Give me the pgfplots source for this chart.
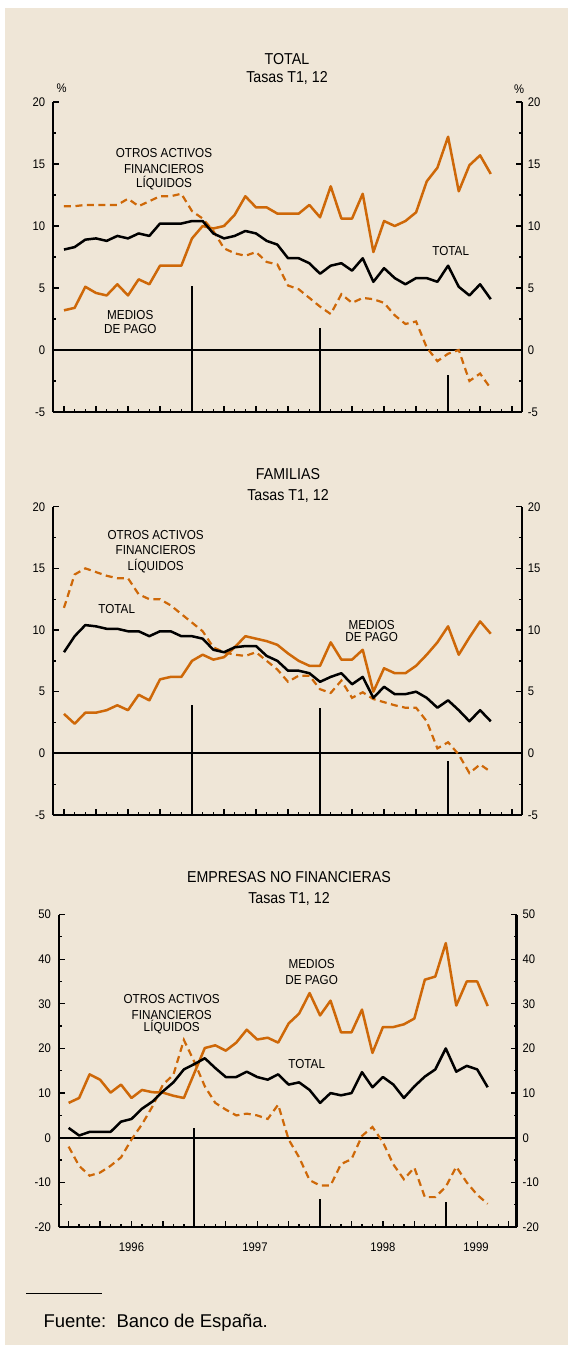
\documentclass[border=0pt]{standalone}
\usepackage{fontspec}
\setmainfont{Liberation Sans}[FakeStretch=0.9]
\newfontfamily\plainfont{Liberation Sans}
\usepackage{pgfplots}
\usepackage{pgfplotstable}
\pgfplotsset{compat=1.18}
\definecolor{bg}{RGB}{239,230,215}
\definecolor{org}{RGB}{206,104,8}
\newcommand\ticksize{\fontsize{12.5}{14}\selectfont}
\newcommand\annsize{\fontsize{13}{15}\selectfont}
\newcommand\titsize{\fontsize{15.8}{18}\selectfont}

\pgfplotstableread{
k tot med otr
0 8.1 3.2 11.6
1 8.3 3.4 11.6
2 8.9 5.1 11.7
3 9.0 4.6 11.7
4 8.8 4.4 11.7
5 9.2 5.3 11.7
6 9.0 4.4 12.2
7 9.4 5.7 11.6
8 9.2 5.3 12.0
9 10.2 6.8 12.4
10 10.2 6.8 12.4
11 10.2 6.8 12.6
12 10.4 9.0 11.2
13 10.4 10.0 10.6
14 9.4 9.8 9.6
15 9.0 10.0 8.2
16 9.2 10.9 7.8
17 9.6 12.4 7.6
18 9.4 11.5 7.9
19 8.8 11.5 7.1
20 8.5 11.0 6.9
21 7.4 11.0 5.2
22 7.4 11.0 4.9
23 7.0 11.7 4.2
24 6.15 10.7 3.5
25 6.8 13.2 2.9
26 7.0 10.6 4.5
27 6.4 10.6 3.8
28 7.4 12.6 4.2
29 5.5 7.9 4.1
30 6.6 10.4 3.8
31 5.8 10.0 2.8
32 5.3 10.4 2.1
33 5.8 11.1 2.3
34 5.8 13.6 0.2
35 5.5 14.7 -0.9
36 6.8 17.2 -0.3
37 5.1 12.8 0.0
38 4.4 14.9 -2.5
39 5.3 15.7 -1.9
40 4.1 14.2 -3.1
}\tabA

\pgfplotstableread{
k tot med otr
0 8.2 3.2 11.8
1 9.5 2.4 14.5
2 10.4 3.3 15.0
3 10.3 3.3 14.7
4 10.1 3.5 14.4
5 10.1 3.9 14.2
6 9.9 3.5 14.2
7 9.9 4.75 12.9
8 9.5 4.3 12.5
9 9.9 6.0 12.5
10 9.9 6.2 12.0
11 9.5 6.2 11.3
12 9.5 7.5 10.6
13 9.3 8.0 9.9
14 8.4 7.6 8.6
15 8.2 7.8 8.2
16 8.6 8.6 8.0
17 8.7 9.5 7.9
18 8.7 9.3 8.2
19 7.9 9.1 7.5
20 7.5 8.8 6.8
21 6.7 8.1 5.8
22 6.7 7.5 6.3
23 6.5 7.1 6.3
24 5.8 7.1 5.2
25 6.2 9.0 4.9
26 6.5 7.6 5.9
27 5.6 7.6 4.5
28 6.2 8.4 4.95
29 4.5 5.0 4.4
30 5.4 6.9 4.15
31 4.8 6.5 3.9
32 4.8 6.5 3.7
33 5.0 7.1 3.7
34 4.5 8.0 2.6
35 3.7 9.0 0.4
36 4.3 10.3 0.9
37 3.5 8.0 -0.1
38 2.6 9.4 -1.6
39 3.5 10.7 -0.9
40 2.6 9.7 -1.5
}\tabB

\pgfplotstableread{
k tot med otr
0 2.2 7.8 -2.0
1 0.5 8.9 -6.3
2 1.3 14.2 -8.5
3 1.3 13.0 -7.8
4 1.3 10.1 -6.3
5 3.6 11.9 -4.4
6 4.2 8.9 -0.4
7 6.5 10.7 3.0
8 8.1 10.2 7.0
9 10.4 10.1 11.9
10 12.4 9.4 14.1
11 15.3 8.9 21.9
12 16.5 14.5 17.0
13 17.8 20.1 11.5
14 15.6 20.7 7.8
15 13.6 19.5 6.3
16 13.6 21.3 5.0
17 14.8 24.2 5.4
18 13.6 22.0 5.0
19 13.0 22.4 4.2
20 14.2 21.3 7.4
21 11.9 25.6 -0.4
22 12.4 27.8 -4.4
23 10.7 32.4 -9.5
24 7.8 27.4 -10.7
25 10.0 30.7 -10.7
26 9.5 23.6 -5.9
27 10.0 23.6 -4.8
28 14.7 28.7 0.4
29 11.3 19.0 2.4
30 13.6 24.8 -1.0
31 11.9 24.8 -6.0
32 8.9 25.4 -9.3
33 11.5 26.7 -6.7
34 13.7 35.4 -13.3
35 15.3 36.1 -13.3
36 20.0 43.6 -11.0
37 14.8 29.6 -6.5
38 16.1 35.0 -10.0
39 15.3 35.0 -12.8
40 11.3 29.5 -14.8
}\tabC

\pgfplotsset{
  base/.style={scale only axis, clip=false,
    axis line style={-, line width=2.2pt, black},
    tick style={black, line width=1.3pt},
    tick align=inside, major tick length=6pt, minor tick length=3pt},
  leftax/.style={base, axis x line*=bottom, axis y line*=left,
    xtick={0,3,...,42}, minor xtick={0,1,...,42}, xticklabels={},
    yticklabel style={font=\ticksize, inner sep=0pt, anchor=east, xshift=-8pt}},
  rightax/.style={base, axis y line*=right, axis x line=none,
    yticklabel style={font=\ticksize, inner sep=0pt, anchor=west, xshift=6pt}},
  smallax/.style={ymin=-5, ymax=20, ytick={-5,0,5,10,15,20},
    yticklabels={-5,0,5,10,15,20}, minor ytick={-2.5,2.5,7.5,12.5,17.5}},
  bigax/.style={ymin=-20, ymax=50, ytick={-20,-10,0,10,20,30,40,50},
    yticklabels={-20,-10,0,10,20,30,40,50}, minor ytick={-15,-5,5,15,25,35,45}},
  solidl/.style={line width=2.5pt, line join=round},
  dashl/.style={org, line width=2.2pt, dash pattern=on 7pt off 4.5pt},
}

\newcommand\lbl[3]{\node[font=\annsize, anchor=base, inner sep=0pt] at (#1pt,-#2pt) {#3};}
\newcommand\tit[3]{\node[font=\titsize, anchor=base, inner sep=0pt] at (#1pt,-#2pt) {#3};}

\begin{document}
\begin{tikzpicture}
\fill[white] (0pt,0pt) rectangle (568pt,-1345pt);
\fill[bg] (5pt,-8pt) rectangle (568pt,-1345pt);

% ---------- Panel 1 ----------
\begin{axis}[leftax, smallax, at={(53.3pt,-412pt)}, anchor=south west,
  width=468.4pt, height=310pt, xmin=-1, xmax=42.9]
\addplot[black, line width=2pt] coordinates {(-1,0) (42.9,0)};
\addplot[black, line width=2pt] coordinates {(12,-5) (12,5.2)};
\addplot[black, line width=2pt] coordinates {(24,-5) (24,1.8)};
\addplot[black, line width=2pt] coordinates {(36,-5) (36,-2.0)};
\addplot[dashl] table[x=k, y=otr] {\tabA};
\addplot[org, solidl] table[x=k, y=med] {\tabA};
\addplot[black, solidl] table[x=k, y=tot] {\tabA};
\end{axis}
\begin{axis}[rightax, smallax, at={(53.3pt,-412pt)}, anchor=south west,
  width=468.4pt, height=310pt, xmin=-1, xmax=42.9]
\end{axis}
\tit{287}{64.2}{TOTAL}
\tit{287}{82.2}{Tasas T1, 12}
\node[font=\ticksize, anchor=base, inner sep=0pt] at (61.7pt,-92.8pt) {\%};
\node[font=\ticksize, anchor=base, inner sep=0pt] at (519pt,-93.5pt) {\%};
\lbl{164}{157}{OTROS ACTIVOS}
\lbl{164}{173}{FINANCIEROS}
\lbl{164}{187}{LÍQUIDOS}
\lbl{130.3}{319.7}{MEDIOS}
\lbl{130.3}{333}{DE PAGO}
\lbl{450.7}{255.7}{TOTAL}

% ---------- Panel 2 ----------
\begin{axis}[leftax, smallax, at={(53.3pt,-815pt)}, anchor=south west,
  width=468.4pt, height=308.3pt, xmin=-1, xmax=42.9]
\addplot[black, line width=2pt] coordinates {(-1,0) (42.9,0)};
\addplot[black, line width=2pt] coordinates {(12,-5) (12,3.9)};
\addplot[black, line width=2pt] coordinates {(24,-5) (24,3.7)};
\addplot[black, line width=2pt] coordinates {(36,-5) (36,-0.6)};
\addplot[dashl] table[x=k, y=otr] {\tabB};
\addplot[org, solidl] table[x=k, y=med] {\tabB};
\addplot[black, solidl] table[x=k, y=tot] {\tabB};
\end{axis}
\begin{axis}[rightax, smallax, at={(53.3pt,-815pt)}, anchor=south west,
  width=468.4pt, height=308.3pt, xmin=-1, xmax=42.9]
\end{axis}
\tit{288}{479.5}{FAMILIAS}
\tit{288}{500.5}{Tasas T1, 12}
\lbl{155.7}{539}{OTROS ACTIVOS}
\lbl{155.7}{554.7}{FINANCIEROS}
\lbl{155.7}{570.7}{LÍQUIDOS}
\lbl{116.7}{613}{TOTAL}
\lbl{371.7}{629}{MEDIOS}
\lbl{371.7}{641.4}{DE PAGO}

% ---------- Panel 3 ----------
\begin{axis}[leftax, bigax, at={(59pt,-1227pt)}, anchor=south west,
  width=457.5pt, height=312.5pt, xmin=-0.92, xmax=42.75]
\addplot[black, line width=2pt] coordinates {(-0.92,0) (42.75,0)};
\addplot[black, line width=2pt] coordinates {(12,-20) (12,2.2)};
\addplot[black, line width=2pt] coordinates {(24,-20) (24,-13.7)};
\addplot[black, line width=2pt] coordinates {(36,-20) (36,-14.3)};
\addplot[dashl] table[x=k, y=otr] {\tabC};
\addplot[org, solidl] table[x=k, y=med] {\tabC};
\addplot[black, solidl] table[x=k, y=tot] {\tabC};
\end{axis}
\begin{axis}[rightax, bigax, at={(59pt,-1227pt)}, anchor=south west,
  width=457.5pt, height=312.5pt, xmin=-0.92, xmax=42.75]
\end{axis}
\tit{289}{882.8}{EMPRESAS NO FINANCIERAS}
\tit{289}{903.8}{Tasas T1, 12}
\lbl{171.7}{1003}{OTROS ACTIVOS}
\lbl{171.7}{1019}{FINANCIEROS}
\lbl{171.7}{1031.4}{LÍQUIDOS}
\lbl{311.7}{968}{MEDIOS}
\lbl{311.7}{984}{DE PAGO}
\lbl{306.7}{1068.7}{TOTAL}
\foreach \yx/\yl in {131.5/1996, 255/1997, 382.9/1998, 476/1999}
  \node[font=\ticksize, anchor=base, inner sep=0pt] at (\yx pt,-1251.2pt) {\yl};

% ---------- Footnote ----------
\draw[black, line width=1pt] (26pt,-1293pt) -- (102pt,-1293pt);
\node[font=\plainfont\fontsize{18.5}{21}\selectfont, anchor=base west, inner sep=0pt]
  at (43.4pt,-1327.3pt) {Fuente:\ \ Banco de España.};
\end{tikzpicture}
\end{document}
